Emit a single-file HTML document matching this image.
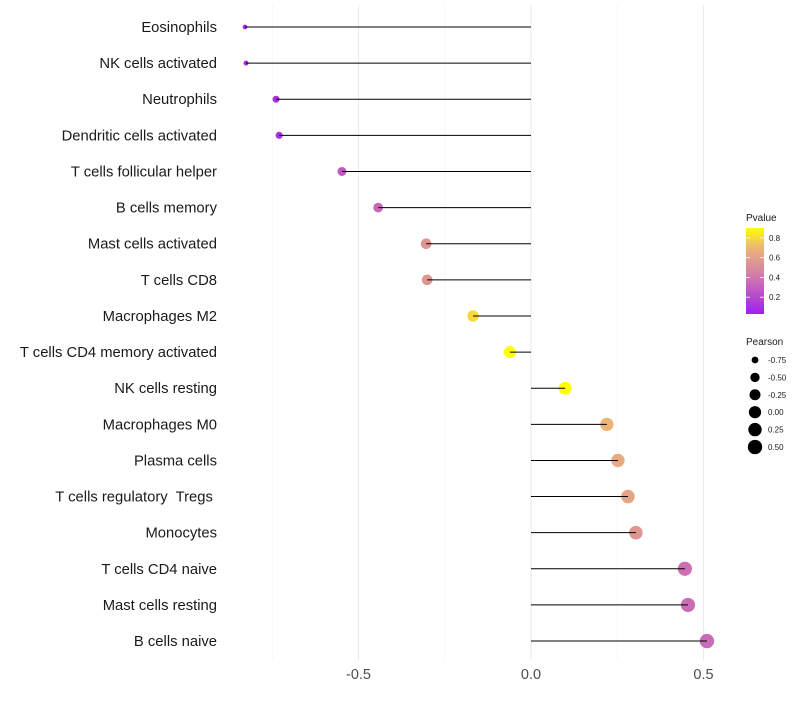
<!DOCTYPE html>
<html><head><meta charset="utf-8"><style>
body{margin:0;background:#fff;font-family:"Liberation Sans",sans-serif}
text{white-space:pre}
</style></head><body>
<svg id="chart" width="800" height="700" xmlns="http://www.w3.org/2000/svg"></svg>
<script>
const categories=["Eosinophils","NK cells activated","Neutrophils","Dendritic cells activated","T cells follicular helper","B cells memory","Mast cells activated","T cells CD8","Macrophages M2","T cells CD4 memory activated","NK cells resting","Macrophages M0","Plasma cells","T cells regulatory  Tregs ","Monocytes","T cells CD4 naive","Mast cells resting","B cells naive"];
const pearson=[-0.829,-0.826,-0.739,-0.730,-0.548,-0.443,-0.304,-0.301,-0.168,-0.061,0.099,0.220,0.252,0.281,0.304,0.446,0.455,0.510];
const pvalues=[0.05,0.06,0.1,0.11,0.28,0.34,0.55,0.55,0.8,0.9,0.9,0.7,0.65,0.62,0.55,0.37,0.36,0.35];
const xTicks=[-0.5,0.0,0.5];
const xTickLabels=["-0.5","0.0","0.5"];
const pTicks=[0.2,0.4,0.6,0.8];
const sizeLegend=[-0.75,-0.5,-0.25,0,0.25,0.5];
const sizeLegendLabels=["-0.75","-0.50","-0.25","0.00","0.25","0.50"];

const NS="http://www.w3.org/2000/svg";
const svg=document.getElementById('chart');
const x=v=>531+v*345;
const y=i=>27+i*36.12;
const r=v=>2.2+5*Math.sqrt(Math.max(0,(v+0.83)/1.34));
const stops=[[0.03,[160,32,240]],[0.45,[214,130,165]],[0.7,[236,180,120]],[0.9,[255,255,0]]];
function col(p){p=Math.max(0.03,Math.min(0.9,p));for(let k=0;k<stops.length-1;k++){const a=stops[k],b=stops[k+1];if(p<=b[0]){const t=(p-a[0])/(b[0]-a[0]);return 'rgb('+a[1].map((c,j)=>Math.round(c+(b[1][j]-c)*t)).join(',')+')';}}return 'rgb(255,255,0)';}
function mk(tag,attrs,txt){const e=document.createElementNS(NS,tag);for(const k in attrs)e.setAttribute(k,attrs[k]);if(txt!==undefined)e.textContent=txt;svg.appendChild(e);return e;}

[-0.75,-0.25,0.25].forEach(v=>{const g=mk('line',{x1:x(v),x2:x(v),y1:5,y2:660,stroke:'#f3f3f3','stroke-width':0.6});

});
xTicks.forEach((v,i)=>{const g=mk('line',{x1:x(v),x2:x(v),y1:5,y2:660,stroke:'#ebebeb','stroke-width':1.1});


const t=mk('text',{x:x(v),y:679,'text-anchor':'middle','font-size':14.5,fill:'#4d4d4d'},xTickLabels[i]);

});

categories.forEach((c,i)=>{
const t=mk('text',{x:217,y:y(i)+5,'text-anchor':'end','font-size':14.8,fill:'#1a1a1a'},c);


const d=mk('circle',{cx:x(pearson[i]),cy:y(i),r:r(pearson[i]),fill:col(pvalues[i])});


const l=mk('line',{x1:x(0),x2:x(pearson[i]),y1:y(i),y2:y(i),stroke:'#000','stroke-width':1});


});

let tt=mk('text',{x:746,y:221,'font-size':10,fill:'#1a1a1a'},'Pvalue');


const defs=mk('defs',{});
const lg=document.createElementNS(NS,'linearGradient');lg.setAttribute('id','pg');lg.setAttribute('x1','0');lg.setAttribute('y1','1');lg.setAttribute('x2','0');lg.setAttribute('y2','0');defs.appendChild(lg);
for(let k=0;k<=10;k++){const s=document.createElementNS(NS,'stop');const p=0.03+k*0.087;s.setAttribute('offset',k/10);s.setAttribute('stop-color',col(p));lg.appendChild(s);}
const cb=mk('rect',{x:746,y:228,width:18,height:86,fill:'url(#pg)'});


const py=p=>314-(p-0.03)/0.87*86;
pTicks.forEach(p=>{mk('line',{x1:746,x2:750,y1:py(p),y2:py(p),stroke:'#fff','stroke-width':0.8});mk('line',{x1:760,x2:764,y1:py(p),y2:py(p),stroke:'#fff','stroke-width':0.8});
const t=mk('text',{x:769,y:py(p)+3,'font-size':8,fill:'#1a1a1a'},p.toFixed(1));

});

tt=mk('text',{x:746,y:345,'font-size':10,fill:'#1a1a1a'},'Pearson');


sizeLegend.forEach((v,i)=>{const cy=360+i*17.4;
const c=mk('circle',{cx:755,cy:cy,r:Math.max(2.8,r(v)),fill:'#000'});


const t=mk('text',{x:768,y:cy+3,'font-size':8,fill:'#1a1a1a'},sizeLegendLabels[i]);

});
</script>
</body></html>
